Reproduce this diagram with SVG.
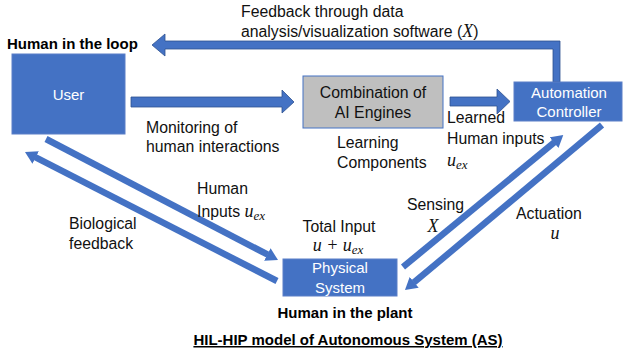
<svg xmlns="http://www.w3.org/2000/svg" width="623" height="356" viewBox="0 0 623 356">
<style>
text{font-family:"Liberation Sans",Arial,sans-serif;font-size:15.8px;fill:#111}
.b{font-weight:bold;font-size:15px;fill:#000}
.w{fill:#fff;font-size:15px;text-anchor:middle}
.c{text-anchor:middle}
.m{font-family:"Liberation Serif","Times New Roman",serif;font-style:italic;font-size:18px}
.s{font-family:"Liberation Serif","Times New Roman",serif;font-style:italic;font-size:13px}
.node{fill:#4472C4;stroke:#5B7FC7;stroke-width:1}
.blk{fill:#4472C4;stroke:#2F528F;stroke-width:0.8}
.ln{stroke:#4472C4;stroke-width:6.5;fill:none;marker-end:url(#ah)}
</style>
<defs>
<marker id="ah" markerUnits="userSpaceOnUse" markerWidth="12" markerHeight="14" viewBox="0 0 12 14" refX="0.5" refY="7" orient="auto">
<path d="M0,0 L12,7 L0,14 z" fill="#4472C4"/>
</marker>
</defs>

<g id="connectors">
<polygon class="blk" points="152,45 165,34 165,41 560,41 560,82 553,82 553,49 165,49 165,56"/>
<polygon class="blk" points="131,97 282,97 282,90 294,102 282,113 282,107 131,107"/>
<polygon class="blk" points="450,97 497,97 497,89 510,101.5 497,114 497,106 450,106"/>
<line class="ln" x1="46" y1="139" x2="267.8" y2="254.7"/>
<line class="ln" x1="277" y1="281" x2="35.2" y2="157.2"/>
<line class="ln" x1="403" y1="267" x2="554.4" y2="142.3"/>
<line class="ln" x1="602" y1="125" x2="413.8" y2="282.6"/>
</g>

<g id="user">
<rect class="node" x="12" y="54" width="113" height="80"/>
<text class="w" x="68.5" y="100">User</text>
</g>

<g id="ai-engines">
<rect x="303" y="76" width="140" height="52" fill="#BFBFBF" stroke="#4472C4" stroke-width="1"/>
<text class="c" x="373" y="98">Combination of</text>
<text class="c" x="373" y="118">AI Engines</text>
</g>

<g id="automation-controller">
<rect class="node" x="514" y="82" width="108" height="39"/>
<text class="w" x="569" y="98">Automation</text>
<text class="w" x="569" y="117">Controller</text>
</g>

<g id="physical-system">
<rect class="node" x="283" y="259" width="114" height="37"/>
<text class="w" x="340" y="273">Physical</text>
<text class="w" x="340" y="293">System</text>
</g>

<g id="labels">
<text x="241" y="17">Feedback through data</text>
<text x="241" y="37">analysis/visualization software (<tspan class="m">X</tspan>)</text>
<text class="b" x="7" y="49">Human in the loop</text>
<text x="146" y="133">Monitoring of</text>
<text x="146" y="152">human interactions</text>
<text x="337" y="148">Learning</text>
<text x="337" y="168">Components</text>
<text x="447" y="123">Learned</text>
<text x="447" y="144">Human inputs</text>
<text x="447" y="166"><tspan class="m">u</tspan><tspan class="s" dy="3">ex</tspan></text>
<text x="197" y="194">Human</text>
<text x="197" y="217">Inputs <tspan class="m">u</tspan><tspan class="s" dy="3">ex</tspan></text>
<text x="69" y="229">Biological</text>
<text x="69" y="249">feedback</text>
<text class="c" x="339" y="232">Total Input</text>
<text class="c" x="338" y="251"><tspan class="m">u</tspan><tspan class="m"> + </tspan><tspan class="m">u</tspan><tspan class="s" dy="3">ex</tspan></text>
<text x="407" y="210">Sensing</text>
<text class="c m" x="433" y="232">X</text>
<text x="516" y="219">Actuation</text>
<text class="c m" x="555" y="239">u</text>
<text class="b c" x="345" y="318">Human in the plant</text>
<text class="b c" x="348" y="345" text-decoration="underline">HIL-HIP model of Autonomous System (AS)</text>
</g>
</svg>
